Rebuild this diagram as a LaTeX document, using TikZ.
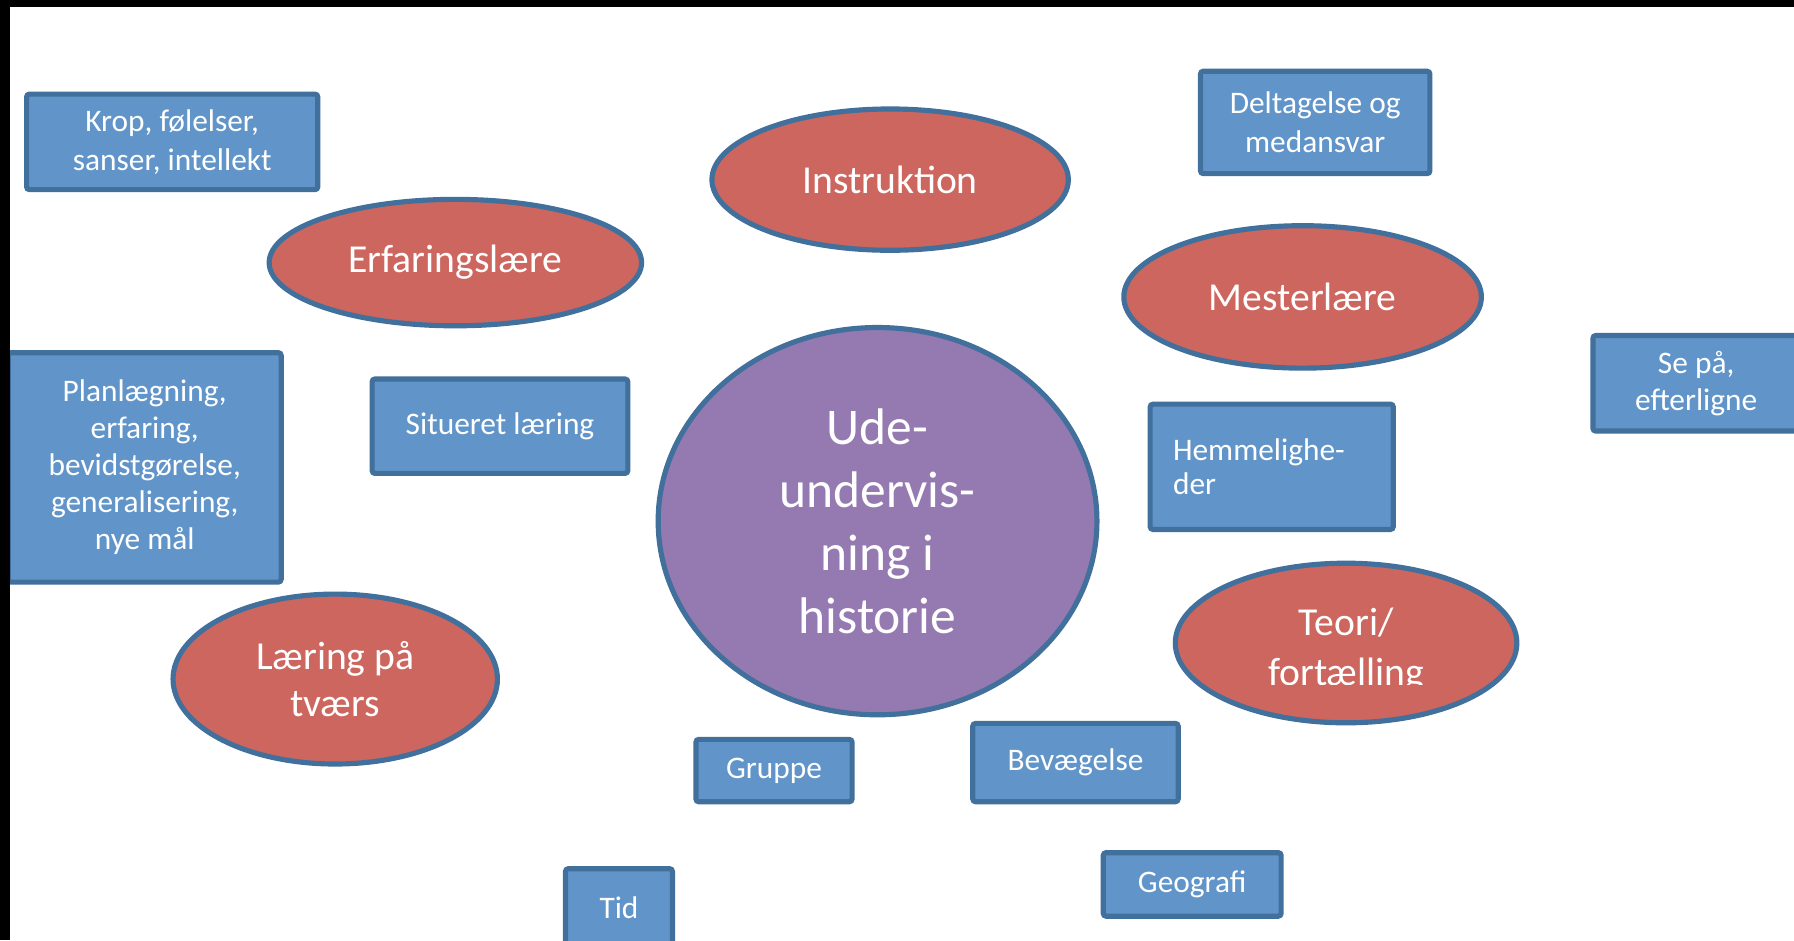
\documentclass[tikz,border=0pt]{standalone}
\usepackage{fontspec}
\setmainfont{Carlito}
\usetikzlibrary{shapes.geometric}
\tikzset{
  boks/.style={draw=Kant, fill=BoksBlaa, line width=0.9mm, rounded corners=0.5mm, text=white, align=center, inner sep=0pt, font=\fontsize{15.6}{19.5}\selectfont},
  oval/.style={ellipse, draw=Kant, fill=OvalRoed, line width=0.9mm, text=white, align=center, inner sep=0pt, font=\fontsize{19.7}{23.5}\selectfont},
}
\begin{document}
\begin{tikzpicture}[x=0.2mm, y=-0.2mm]
\definecolor{Kant}{RGB}{66, 112, 156}
\definecolor{BoksBlaa}{RGB}{97, 149, 201}
\definecolor{OvalRoed}{RGB}{205, 102, 95}
\definecolor{MidtLilla}{RGB}{148, 122, 177}
\useasboundingbox (0,0) rectangle (1568,822);
\fill[white] (0,0) rectangle (1568,822);
% boxes
\node[boks, minimum width=50.9mm, minimum height=16.7mm] (krop) at (150.5,124) {Krop, følelser,\\sanser, intellekt};
\node[boks, minimum width=40.1mm, minimum height=17.9mm] (deltagelse) at (1149.5,107) {Deltagelse og\\medansvar};
\node[boks, minimum width=36.1mm, minimum height=16.7mm, font=\fontsize{15.6}{18.4}\selectfont] (sepaa) at (1482.5,335) {Se på,\\efterligne};
\node[boks, minimum width=47.7mm, minimum height=40.1mm, font=\fontsize{15.6}{18.4}\selectfont] (planl) at (126.5,408.5) {Planlægning,\\erfaring,\\bevidstgørelse,\\generalisering,\\nye mål};
\node[boks, minimum width=44.7mm, minimum height=16.5mm] (situeret) at (437,372.5) {Situeret læring};
\node[boks, text width=34.5mm, inner xsep=4mm, minimum height=21.9mm, align=left, font=\fontsize{15.6}{17}\selectfont] (hemmelig) at (1111.5,408) {Hemmelighe-\\der};
\node[boks, minimum width=27.3mm, minimum height=10.9mm] (gruppe) at (676.5,673.5) {Gruppe};
\node[boks, minimum width=35.9mm, minimum height=13.7mm] (bevaeg) at (940,666.5) {Bevægelse};
\node[boks, minimum width=31.1mm, minimum height=11.1mm] (geografi) at (1042,773) {Geografi};
\node[boks, minimum width=18.7mm, minimum height=13.5mm] (tid) at (541,793) {Tid};
% ellipses
\node[oval, minimum width=65.1mm, minimum height=22.1mm] (erfaring) at (398,229.5) {Erfaringslære};
\node[oval, minimum width=62.3mm, minimum height=24.7mm] (instruk) at (778,157) {Instruktion};
\node[oval, minimum width=62.5mm, minimum height=24.9mm] (mester) at (1138.5,259.5) {Mesterlære};
\node[oval, minimum width=56.7mm, minimum height=29.7mm] (laering) at (293,593.5) {Læring på\\tværs};
\node[oval, minimum width=59.7mm, minimum height=27.9mm] (teori) at (1176.5,562) {};
\begin{scope}
\clip (1030,480) rectangle (1325,598);
\node[text=white, align=center, inner sep=0pt, font=\fontsize{19.7}{25}\selectfont] (teoritekst) at (1176.5,568) {Teori/\\fortælling};
\end{scope}
\node[oval, fill=MidtLilla, minimum width=76.7mm, minimum height=67.7mm, font=\fontsize{25.6}{31.3}\selectfont] (midte) at (767,455.5) {Ude-\\undervis-\\ning i\\historie};
% black edges
\fill[black] (0,0) rectangle (1568,6);
\fill[black] (0,0) rectangle (8.5,822);
\end{tikzpicture}
\end{document}
